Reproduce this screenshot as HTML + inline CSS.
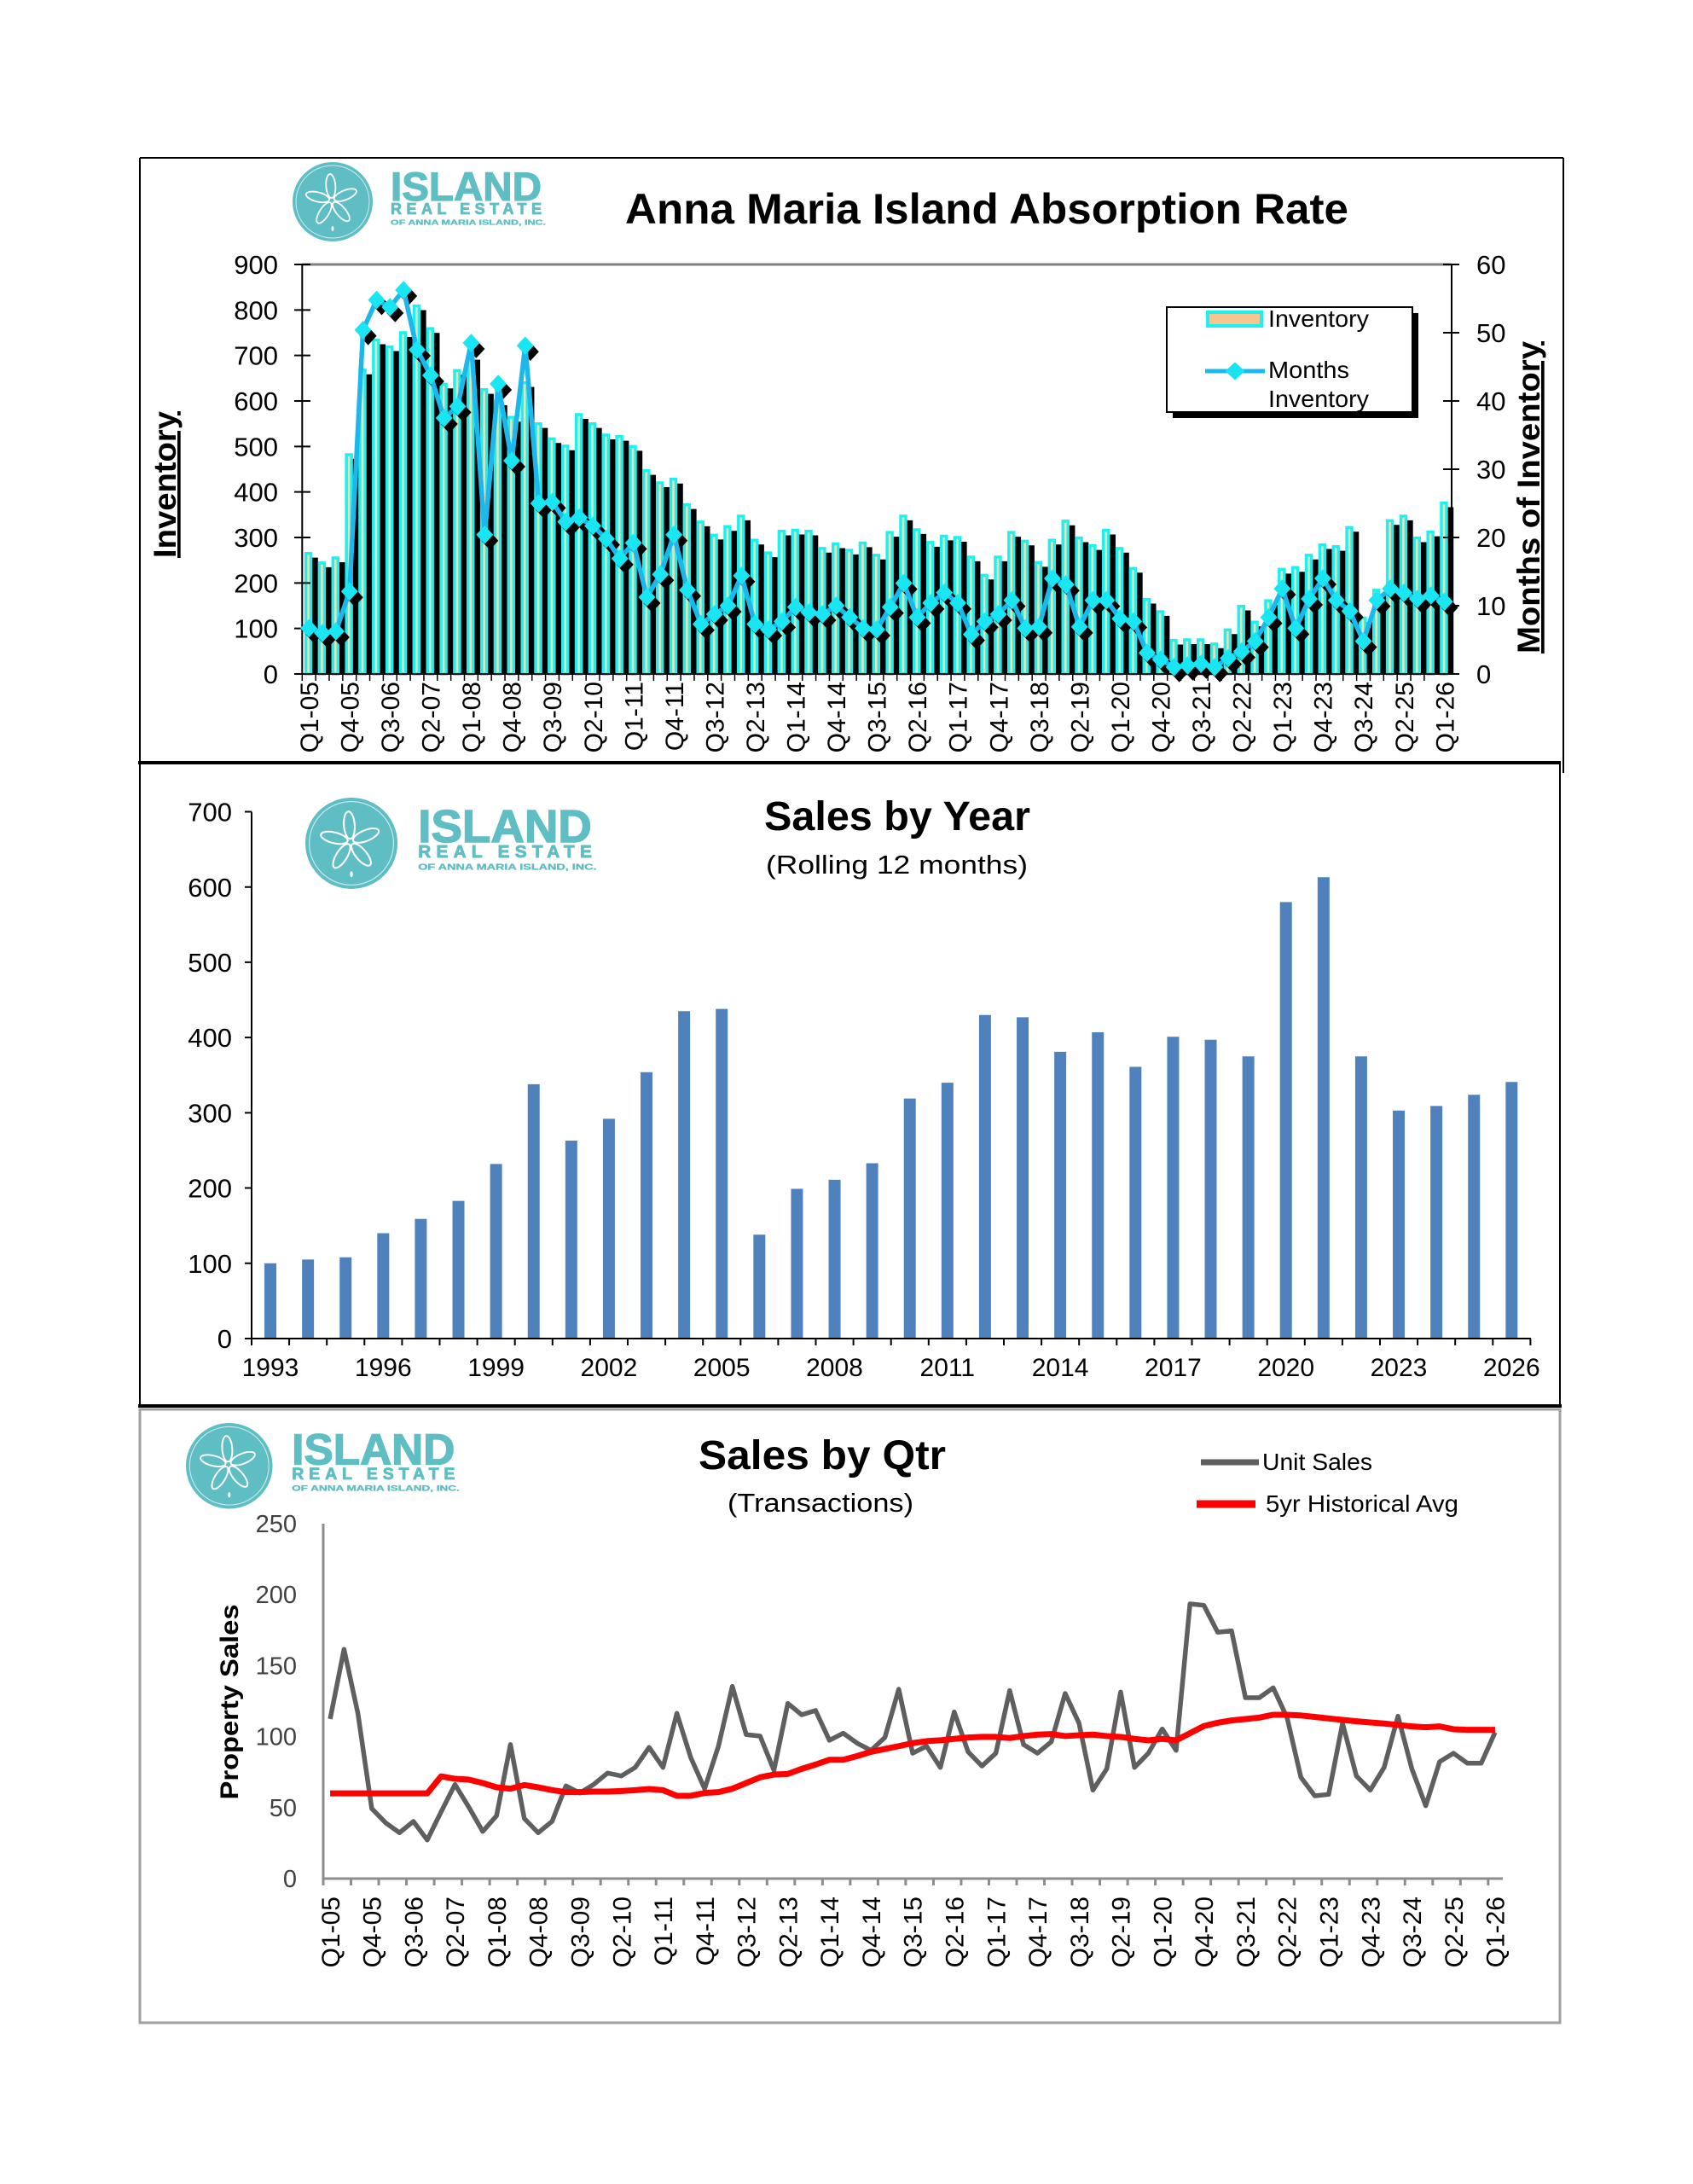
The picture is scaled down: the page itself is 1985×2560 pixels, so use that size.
<!DOCTYPE html>
<html><head><meta charset="utf-8"><style>
html,body{margin:0;padding:0;background:#fff}
svg{display:block}
.ns{vector-effect:non-scaling-stroke}
text{font-family:"Liberation Sans",Arial,sans-serif}
</style></head><body>
<svg width="1985" height="2560" viewBox="0 0 1985 2560" xmlns="http://www.w3.org/2000/svg">
<defs>
<marker id="dC" markerUnits="userSpaceOnUse" markerWidth="1" markerHeight="1" refX="0" refY="0" overflow="visible"><path d="M-0.63 0L0 1.35L0.63 0L0 -1.35Z" fill="#19e6f2"/></marker>
<marker id="dK" markerUnits="userSpaceOnUse" markerWidth="1" markerHeight="1" refX="0" refY="0" overflow="visible"><path d="M-0.63 0L0 1.35L0.63 0L0 -1.35Z" fill="#000"/></marker>
<clipPath id="c1"><rect x="340" y="300" width="1370" height="490"/></clipPath>
</defs>
<rect width="1985" height="2560" fill="#fff"/>

<!-- ================= CHART 1 ================= -->
<path d="M164 185H1833M164 185V894M1833 185V906" stroke="#000" stroke-width="2" fill="none"/>
<!-- logo 1 -->
<g transform="translate(343,190)">
<ellipse cx="47" cy="46.5" rx="47" ry="46.5" fill="#5fbec3"/>
<ellipse cx="47" cy="46.5" rx="43" ry="42.5" fill="none" stroke="#c9ecee" stroke-width="1"/>
<g transform="translate(46,45) rotate(-4)" fill="none" stroke="#fff" stroke-width="1.8">
<ellipse cx="0" cy="-17" rx="5.5" ry="14"/><ellipse cx="0" cy="-17" rx="5.5" ry="14" transform="rotate(72)"/><ellipse cx="0" cy="-17" rx="5.5" ry="14" transform="rotate(144)"/><ellipse cx="0" cy="-17" rx="5.5" ry="14" transform="rotate(216)"/><ellipse cx="0" cy="-17" rx="5.5" ry="14" transform="rotate(288)"/>
</g>
<ellipse cx="47" cy="78" rx="1.5" ry="3" fill="#fff"/>
<text x="115" y="45" font-size="47" font-weight="bold" fill="#5fbec3" stroke="#5fbec3" stroke-width="1.2" textLength="177" lengthAdjust="spacingAndGlyphs">ISLAND</text>
<text x="115" y="61" font-size="18" font-weight="bold" fill="#5fbec3" stroke="#5fbec3" stroke-width="0.8" textLength="177" lengthAdjust="spacing">REAL ESTATE</text>
<text x="115" y="73.5" font-size="8.5" font-weight="bold" fill="#5fbec3" stroke="#5fbec3" stroke-width="0.3" textLength="182" lengthAdjust="spacingAndGlyphs">OF ANNA MARIA ISLAND, INC.</text>
</g>
<text x="733" y="262" font-size="50" font-weight="bold" fill="#000" textLength="848" lengthAdjust="spacingAndGlyphs">Anna Maria Island Absorption Rate</text>

<!-- bar shadows -->
<g clip-path="url(#c1)"><g transform="translate(6.8,5)"><g transform="translate(354.3,790) scale(15.85,-0.53333)">
<path fill="#000" d="M0.21 0v265h.53v-265zM1.21 0v244h.53v-244zM2.21 0v255h.53v-255zM3.21 0v482h.53v-482zM4.21 0v668h.53v-668zM5.21 0v734h.53v-734zM6.21 0v719h.53v-719zM7.21 0v750h.53v-750zM8.21 0v809h.53v-809zM9.21 0v759h.53v-759zM10.21 0v637h.53v-637zM11.21 0v667h.53v-667zM12.21 0v700h.53v-700zM13.21 0v625h.53v-625zM14.21 0v600h.53v-600zM15.21 0v564h.53v-564zM16.21 0v640h.53v-640zM17.21 0v550h.53v-550zM18.21 0v517h.53v-517zM19.21 0v501h.53v-501zM20.21 0v570h.53v-570zM21.21 0v550h.53v-550zM22.21 0v525h.53v-525zM23.21 0v522h.53v-522zM24.21 0v500h.53v-500zM25.21 0v447h.53v-447zM26.21 0v420h.53v-420zM27.21 0v428h.53v-428zM28.21 0v372h.53v-372zM29.21 0v334h.53v-334zM30.21 0v305h.53v-305zM31.21 0v324h.53v-324zM32.21 0v347h.53v-347zM33.21 0v294h.53v-294zM34.21 0v266h.53v-266zM35.21 0v314h.53v-314zM36.21 0v316h.53v-316zM37.21 0v314h.53v-314zM38.21 0v276h.53v-276zM39.21 0v286h.53v-286zM40.21 0v272h.53v-272zM41.21 0v288h.53v-288zM42.21 0v261h.53v-261zM43.21 0v311h.53v-311zM44.21 0v347h.53v-347zM45.21 0v317h.53v-317zM46.21 0v289h.53v-289zM47.21 0v303h.53v-303zM48.21 0v300h.53v-300zM49.21 0v257h.53v-257zM50.21 0v217h.53v-217zM51.21 0v257h.53v-257zM52.21 0v311h.53v-311zM53.21 0v292h.53v-292zM54.21 0v245h.53v-245zM55.21 0v294h.53v-294zM56.21 0v336h.53v-336zM57.21 0v299h.53v-299zM58.21 0v282h.53v-282zM59.21 0v316h.53v-316zM60.21 0v276h.53v-276zM61.21 0v232h.53v-232zM62.21 0v164h.53v-164zM63.21 0v137h.53v-137zM64.21 0v74h.53v-74zM65.21 0v75h.53v-75zM66.21 0v75h.53v-75zM67.21 0v66h.53v-66zM68.21 0v97h.53v-97zM69.21 0v149h.53v-149zM70.21 0v114h.53v-114zM71.21 0v161h.53v-161zM72.21 0v230h.53v-230zM73.21 0v234h.53v-234zM74.21 0v261h.53v-261zM75.21 0v284h.53v-284zM76.21 0v280h.53v-280zM77.21 0v322h.53v-322zM78.21 0v123h.53v-123zM79.21 0v184h.53v-184zM80.21 0v337h.53v-337zM81.21 0v347h.53v-347zM82.21 0v299h.53v-299zM83.21 0v312h.53v-312zM84.21 0v376h.53v-376z"/>
</g></g></g>
<!-- cyan bars -->
<g transform="translate(354.3,790) scale(15.85,-0.53333)">
<path class="ns" fill="#e4e2b8" stroke="#1ef0f0" stroke-width="3.4" d="M0.27 0v265h.38v-265zM1.27 0v244h.38v-244zM2.27 0v255h.38v-255zM3.27 0v482h.38v-482zM4.27 0v668h.38v-668zM5.27 0v734h.38v-734zM6.27 0v719h.38v-719zM7.27 0v750h.38v-750zM8.27 0v809h.38v-809zM9.27 0v759h.38v-759zM10.27 0v637h.38v-637zM11.27 0v667h.38v-667zM12.27 0v700h.38v-700zM13.27 0v625h.38v-625zM14.27 0v600h.38v-600zM15.27 0v564h.38v-564zM16.27 0v640h.38v-640zM17.27 0v550h.38v-550zM18.27 0v517h.38v-517zM19.27 0v501h.38v-501zM20.27 0v570h.38v-570zM21.27 0v550h.38v-550zM22.27 0v525h.38v-525zM23.27 0v522h.38v-522zM24.27 0v500h.38v-500zM25.27 0v447h.38v-447zM26.27 0v420h.38v-420zM27.27 0v428h.38v-428zM28.27 0v372h.38v-372zM29.27 0v334h.38v-334zM30.27 0v305h.38v-305zM31.27 0v324h.38v-324zM32.27 0v347h.38v-347zM33.27 0v294h.38v-294zM34.27 0v266h.38v-266zM35.27 0v314h.38v-314zM36.27 0v316h.38v-316zM37.27 0v314h.38v-314zM38.27 0v276h.38v-276zM39.27 0v286h.38v-286zM40.27 0v272h.38v-272zM41.27 0v288h.38v-288zM42.27 0v261h.38v-261zM43.27 0v311h.38v-311zM44.27 0v347h.38v-347zM45.27 0v317h.38v-317zM46.27 0v289h.38v-289zM47.27 0v303h.38v-303zM48.27 0v300h.38v-300zM49.27 0v257h.38v-257zM50.27 0v217h.38v-217zM51.27 0v257h.38v-257zM52.27 0v311h.38v-311zM53.27 0v292h.38v-292zM54.27 0v245h.38v-245zM55.27 0v294h.38v-294zM56.27 0v336h.38v-336zM57.27 0v299h.38v-299zM58.27 0v282h.38v-282zM59.27 0v316h.38v-316zM60.27 0v276h.38v-276zM61.27 0v232h.38v-232zM62.27 0v164h.38v-164zM63.27 0v137h.38v-137zM64.27 0v74h.38v-74zM65.27 0v75h.38v-75zM66.27 0v75h.38v-75zM67.27 0v66h.38v-66zM68.27 0v97h.38v-97zM69.27 0v149h.38v-149zM70.27 0v114h.38v-114zM71.27 0v161h.38v-161zM72.27 0v230h.38v-230zM73.27 0v234h.38v-234zM74.27 0v261h.38v-261zM75.27 0v284h.38v-284zM76.27 0v280h.38v-280zM77.27 0v322h.38v-322zM78.27 0v123h.38v-123zM79.27 0v184h.38v-184zM80.27 0v337h.38v-337zM81.27 0v347h.38v-347zM82.27 0v299h.38v-299zM83.27 0v312h.38v-312zM84.27 0v376h.38v-376z"/>
</g>
<!-- axes chart 1 -->
<path d="M354.3 310H1702" stroke="#808080" stroke-width="3"/>
<path d="M354.3 309V791M1702 309V791M353 790H1703" stroke="#000" stroke-width="2" fill="none"/>
<path d="M345 310h19m-19 53.333h19m-19 53.333h19m-19 53.333h19m-19 53.333h19m-19 53.333h19m-19 53.333h19m-19 53.333h19m-19 53.333h19m-19 53.333h19" stroke="#000" stroke-width="2"/>
<path d="M1692 310h19m-19 80h19m-19 80h19m-19 80h19m-19 80h19m-19 80h19m-19 80h19" stroke="#000" stroke-width="2"/>
<path d="M354.3 790v8m15.85-8v8m15.85-8v8m15.85-8v8m15.85-8v8m15.85-8v8m15.85-8v8m15.85-8v8m15.85-8v8m15.85-8v8m15.85-8v8m15.85-8v8m15.85-8v8m15.85-8v8m15.85-8v8m15.85-8v8m15.85-8v8m15.85-8v8m15.85-8v8m15.85-8v8m15.85-8v8m15.85-8v8m15.85-8v8m15.85-8v8m15.85-8v8m15.85-8v8m15.85-8v8m15.85-8v8m15.85-8v8m15.85-8v8m15.85-8v8m15.85-8v8m15.85-8v8m15.85-8v8m15.85-8v8m15.85-8v8m15.85-8v8m15.85-8v8m15.85-8v8m15.85-8v8m15.85-8v8m15.85-8v8m15.85-8v8m15.85-8v8m15.85-8v8m15.85-8v8m15.85-8v8m15.85-8v8m15.85-8v8m15.85-8v8m15.85-8v8m15.85-8v8m15.85-8v8m15.85-8v8m15.85-8v8m15.85-8v8m15.85-8v8m15.85-8v8m15.85-8v8m15.85-8v8m15.85-8v8m15.85-8v8m15.85-8v8m15.85-8v8m15.85-8v8m15.85-8v8m15.85-8v8m15.85-8v8m15.85-8v8m15.85-8v8m15.85-8v8m15.85-8v8m15.85-8v8m15.85-8v8m15.85-8v8m15.85-8v8m15.85-8v8m15.85-8v8m15.85-8v8m15.85-8v8m15.85-8v8m15.85-8v8m15.85-8v8m15.85-8v8" stroke="#000" stroke-width="1.5"/>
<!-- months line -->
<g transform="translate(6,7)"><g transform="translate(354.3,790) scale(15.85,-8)">
<polyline fill="none" stroke="none" marker-start="url(#dK)" marker-mid="url(#dK)" marker-end="url(#dK)" points="0.5,6.7 1.5,6 2.5,6.25 3.5,12.1 4.5,50.4 5.5,54.8 6.5,53.75 7.5,56.25 8.5,47.5 9.5,43.75 10.5,37.5 11.5,39.2 12.5,48.5 13.5,20.4 14.5,42.5 15.5,31.25 16.5,48.1 17.5,25 18.5,25.2 19.5,22.3 20.5,22.9 21.5,21.7 22.5,19.8 23.5,16.9 24.5,19.2 25.5,11.25 26.5,14.6 27.5,20.4 28.5,12.3 29.5,7.3 30.5,8.75 31.5,10 32.5,14.4 33.5,7.3 34.5,6.5 35.5,7.7 36.5,9.8 37.5,9 38.5,8.75 39.5,10 40.5,8.3 41.5,6.7 42.5,6.5 43.5,9.8 44.5,13.3 45.5,8.3 46.5,10.4 47.5,11.9 48.5,10.4 49.5,5.8 50.5,7.7 51.5,8.75 52.5,10.8 53.5,6.7 54.5,6.9 55.5,14 56.5,13.1 57.5,6.9 58.5,10.8 59.5,10.8 60.5,8.1 61.5,7.7 62.5,3.1 63.5,2.1 64.5,1 65.5,1.25 66.5,1.5 67.5,1 68.5,2.3 69.5,3.3 70.5,4.8 71.5,8.3 72.5,12.5 73.5,6.7 74.5,11 75.5,14 76.5,10.8 77.5,9.2 78.5,4.8 79.5,10.8 80.5,12.5 81.5,11.9 82.5,11 83.5,11.5 84.5,10.6"/>
</g></g>
<g transform="translate(354.3,790) scale(15.85,-8)">
<polyline class="ns" fill="none" stroke="#1cb8ec" stroke-width="5.5" stroke-linejoin="round" points="0.5,6.7 1.5,6 2.5,6.25 3.5,12.1 4.5,50.4 5.5,54.8 6.5,53.75 7.5,56.25 8.5,47.5 9.5,43.75 10.5,37.5 11.5,39.2 12.5,48.5 13.5,20.4 14.5,42.5 15.5,31.25 16.5,48.1 17.5,25 18.5,25.2 19.5,22.3 20.5,22.9 21.5,21.7 22.5,19.8 23.5,16.9 24.5,19.2 25.5,11.25 26.5,14.6 27.5,20.4 28.5,12.3 29.5,7.3 30.5,8.75 31.5,10 32.5,14.4 33.5,7.3 34.5,6.5 35.5,7.7 36.5,9.8 37.5,9 38.5,8.75 39.5,10 40.5,8.3 41.5,6.7 42.5,6.5 43.5,9.8 44.5,13.3 45.5,8.3 46.5,10.4 47.5,11.9 48.5,10.4 49.5,5.8 50.5,7.7 51.5,8.75 52.5,10.8 53.5,6.7 54.5,6.9 55.5,14 56.5,13.1 57.5,6.9 58.5,10.8 59.5,10.8 60.5,8.1 61.5,7.7 62.5,3.1 63.5,2.1 64.5,1 65.5,1.25 66.5,1.5 67.5,1 68.5,2.3 69.5,3.3 70.5,4.8 71.5,8.3 72.5,12.5 73.5,6.7 74.5,11 75.5,14 76.5,10.8 77.5,9.2 78.5,4.8 79.5,10.8 80.5,12.5 81.5,11.9 82.5,11 83.5,11.5 84.5,10.6"/>
<polyline fill="none" stroke="none" marker-start="url(#dC)" marker-mid="url(#dC)" marker-end="url(#dC)" points="0.5,6.7 1.5,6 2.5,6.25 3.5,12.1 4.5,50.4 5.5,54.8 6.5,53.75 7.5,56.25 8.5,47.5 9.5,43.75 10.5,37.5 11.5,39.2 12.5,48.5 13.5,20.4 14.5,42.5 15.5,31.25 16.5,48.1 17.5,25 18.5,25.2 19.5,22.3 20.5,22.9 21.5,21.7 22.5,19.8 23.5,16.9 24.5,19.2 25.5,11.25 26.5,14.6 27.5,20.4 28.5,12.3 29.5,7.3 30.5,8.75 31.5,10 32.5,14.4 33.5,7.3 34.5,6.5 35.5,7.7 36.5,9.8 37.5,9 38.5,8.75 39.5,10 40.5,8.3 41.5,6.7 42.5,6.5 43.5,9.8 44.5,13.3 45.5,8.3 46.5,10.4 47.5,11.9 48.5,10.4 49.5,5.8 50.5,7.7 51.5,8.75 52.5,10.8 53.5,6.7 54.5,6.9 55.5,14 56.5,13.1 57.5,6.9 58.5,10.8 59.5,10.8 60.5,8.1 61.5,7.7 62.5,3.1 63.5,2.1 64.5,1 65.5,1.25 66.5,1.5 67.5,1 68.5,2.3 69.5,3.3 70.5,4.8 71.5,8.3 72.5,12.5 73.5,6.7 74.5,11 75.5,14 76.5,10.8 77.5,9.2 78.5,4.8 79.5,10.8 80.5,12.5 81.5,11.9 82.5,11 83.5,11.5 84.5,10.6"/>
</g>
<!-- y labels chart1 -->
<g font-size="31" fill="#000" text-anchor="end">
<text x="326" y="321">900</text><text x="326" y="374.3">800</text><text x="326" y="427.7">700</text><text x="326" y="481">600</text><text x="326" y="534.3">500</text><text x="326" y="587.7">400</text><text x="326" y="641">300</text><text x="326" y="694.3">200</text><text x="326" y="747.7">100</text><text x="326" y="801">0</text>
</g>
<g font-size="31" fill="#000" text-anchor="start">
<text x="1731" y="321">60</text><text x="1731" y="401">50</text><text x="1731" y="481">40</text><text x="1731" y="561">30</text><text x="1731" y="641">20</text><text x="1731" y="721">10</text><text x="1731" y="801">0</text>
</g>
<text transform="translate(206,568) rotate(-90)" font-size="37" font-weight="bold" text-anchor="middle" text-decoration="underline" textLength="172" lengthAdjust="spacingAndGlyphs">Inventory</text>
<text transform="translate(1805,583) rotate(-90)" font-size="37" font-weight="bold" text-anchor="middle" text-decoration="underline" textLength="366" lengthAdjust="spacingAndGlyphs">Months of Inventory</text>
<!-- x labels chart1 -->
<g font-size="30" fill="#000" text-anchor="end">
<text transform="translate(372.9,799) rotate(-90)">Q1-05</text><text transform="translate(420.5,799) rotate(-90)">Q4-05</text><text transform="translate(468,799) rotate(-90)">Q3-06</text><text transform="translate(515.6,799) rotate(-90)">Q2-07</text><text transform="translate(563.1,799) rotate(-90)">Q1-08</text><text transform="translate(610.7,799) rotate(-90)">Q4-08</text><text transform="translate(658.2,799) rotate(-90)">Q3-09</text><text transform="translate(705.8,799) rotate(-90)">Q2-10</text><text transform="translate(753.3,799) rotate(-90)">Q1-11</text><text transform="translate(800.9,799) rotate(-90)">Q4-11</text><text transform="translate(848.4,799) rotate(-90)">Q3-12</text><text transform="translate(896,799) rotate(-90)">Q2-13</text><text transform="translate(943.5,799) rotate(-90)">Q1-14</text><text transform="translate(991.1,799) rotate(-90)">Q4-14</text><text transform="translate(1038.6,799) rotate(-90)">Q3-15</text><text transform="translate(1086.2,799) rotate(-90)">Q2-16</text><text transform="translate(1133.7,799) rotate(-90)">Q1-17</text><text transform="translate(1181.3,799) rotate(-90)">Q4-17</text><text transform="translate(1228.8,799) rotate(-90)">Q3-18</text><text transform="translate(1276.4,799) rotate(-90)">Q2-19</text><text transform="translate(1323.9,799) rotate(-90)">Q1-20</text><text transform="translate(1371.5,799) rotate(-90)">Q4-20</text><text transform="translate(1419,799) rotate(-90)">Q3-21</text><text transform="translate(1466.6,799) rotate(-90)">Q2-22</text><text transform="translate(1514.1,799) rotate(-90)">Q1-23</text><text transform="translate(1561.7,799) rotate(-90)">Q4-23</text><text transform="translate(1609.2,799) rotate(-90)">Q3-24</text><text transform="translate(1656.8,799) rotate(-90)">Q2-25</text><text transform="translate(1704.3,799) rotate(-90)">Q1-26</text>
</g>
<!-- legend chart1 -->
<rect x="1375" y="367" width="288" height="123" fill="#000"/>
<rect x="1368" y="360" width="288" height="123" fill="#fff" stroke="#000" stroke-width="2"/>
<rect x="1416" y="366" width="63" height="16" fill="#f9c58f" stroke="#1ef0f0" stroke-width="4"/>
<text x="1487" y="383" font-size="28" textLength="118" lengthAdjust="spacingAndGlyphs">Inventory</text>
<path d="M1413 435H1483" stroke="#1cb8ec" stroke-width="5"/>
<path d="M1436.5 435L1448 424.5L1459.5 435L1448 445.5Z" fill="#19e3f0"/>
<text x="1487" y="443" font-size="28" textLength="95" lengthAdjust="spacingAndGlyphs">Months</text>
<text x="1487" y="477" font-size="28" textLength="118" lengthAdjust="spacingAndGlyphs">Inventory</text>

<!-- ================= CHART 2 ================= -->
<path d="M162 894H1830" stroke="#000" stroke-width="4"/>
<path d="M164 894V1648M1829 894V1648" stroke="#000" stroke-width="2"/>
<path d="M162 1648H1831" stroke="#000" stroke-width="4"/>
<g transform="translate(358,935) scale(1.15)">
<ellipse cx="47" cy="46.5" rx="47" ry="46.5" fill="#5fbec3"/>
<ellipse cx="47" cy="46.5" rx="43" ry="42.5" fill="none" stroke="#c9ecee" stroke-width="1"/>
<g transform="translate(46,45) rotate(-4)" fill="none" stroke="#fff" stroke-width="1.8">
<ellipse cx="0" cy="-17" rx="5.5" ry="14"/><ellipse cx="0" cy="-17" rx="5.5" ry="14" transform="rotate(72)"/><ellipse cx="0" cy="-17" rx="5.5" ry="14" transform="rotate(144)"/><ellipse cx="0" cy="-17" rx="5.5" ry="14" transform="rotate(216)"/><ellipse cx="0" cy="-17" rx="5.5" ry="14" transform="rotate(288)"/>
</g>
<ellipse cx="47" cy="78" rx="1.5" ry="3" fill="#fff"/>
<text x="115" y="45" font-size="47" font-weight="bold" fill="#5fbec3" stroke="#5fbec3" stroke-width="1.2" textLength="177" lengthAdjust="spacingAndGlyphs">ISLAND</text>
<text x="115" y="61" font-size="18" font-weight="bold" fill="#5fbec3" stroke="#5fbec3" stroke-width="0.8" textLength="177" lengthAdjust="spacing">REAL ESTATE</text>
<text x="115" y="73.5" font-size="8.5" font-weight="bold" fill="#5fbec3" stroke="#5fbec3" stroke-width="0.3" textLength="182" lengthAdjust="spacingAndGlyphs">OF ANNA MARIA ISLAND, INC.</text>
</g>
<text x="896" y="973" font-size="48" font-weight="bold" textLength="312" lengthAdjust="spacingAndGlyphs">Sales by Year</text>
<text x="898" y="1024" font-size="31" textLength="307" lengthAdjust="spacingAndGlyphs">(Rolling 12 months)</text>
<g transform="translate(295,1569) scale(44.1,-0.8821)">
<path fill="#4f81bd" d="M0.341 0v100h.317v-100zM1.341 0v105h.317v-105zM2.341 0v108h.317v-108zM3.341 0v140h.317v-140zM4.341 0v159h.317v-159zM5.341 0v183h.317v-183zM6.341 0v232h.317v-232zM7.341 0v338h.317v-338zM8.341 0v263h.317v-263zM9.341 0v292h.317v-292zM10.341 0v354h.317v-354zM11.341 0v435h.317v-435zM12.341 0v438h.317v-438zM13.341 0v138h.317v-138zM14.341 0v199h.317v-199zM15.341 0v211h.317v-211zM16.341 0v233h.317v-233zM17.341 0v319h.317v-319zM18.341 0v340h.317v-340zM19.341 0v430h.317v-430zM20.341 0v427h.317v-427zM21.341 0v381h.317v-381zM22.341 0v407h.317v-407zM23.341 0v361h.317v-361zM24.341 0v401h.317v-401zM25.341 0v397h.317v-397zM26.341 0v375h.317v-375zM27.341 0v580h.317v-580zM28.341 0v613h.317v-613zM29.341 0v375h.317v-375zM30.341 0v303h.317v-303zM31.341 0v309h.317v-309zM32.341 0v324h.317v-324zM33.341 0v341h.317v-341z"/>
</g>
<path d="M295 951.5V1570M294 1569H1795" stroke="#000" stroke-width="2" fill="none"/>
<path d="M287 951.5h8m-8 88.21h8m-8 88.21h8m-8 88.21h8m-8 88.21h8m-8 88.21h8m-8 88.21h8m-8 88.21h8" stroke="#000" stroke-width="2"/>
<path d="M295 1569v8m44.1-8v8m44.1-8v8m44.1-8v8m44.1-8v8m44.1-8v8m44.1-8v8m44.1-8v8m44.1-8v8m44.1-8v8m44.1-8v8m44.1-8v8m44.1-8v8m44.1-8v8m44.1-8v8m44.1-8v8m44.1-8v8m44.1-8v8m44.1-8v8m44.1-8v8m44.1-8v8m44.1-8v8m44.1-8v8m44.1-8v8m44.1-8v8m44.1-8v8m44.1-8v8m44.1-8v8m44.1-8v8m44.1-8v8m44.1-8v8m44.1-8v8m44.1-8v8m44.1-8v8m44.1-8v8" stroke="#000" stroke-width="2"/>
<g font-size="31" fill="#000" text-anchor="end">
<text x="272" y="962.5">700</text><text x="272" y="1050.8">600</text><text x="272" y="1139">500</text><text x="272" y="1227.2">400</text><text x="272" y="1315.4">300</text><text x="272" y="1403.6">200</text><text x="272" y="1491.8">100</text><text x="272" y="1580">0</text>
</g>
<g font-size="30" fill="#000" text-anchor="middle">
<text x="317" y="1613">1993</text><text x="449.3" y="1613">1996</text><text x="581.6" y="1613">1999</text><text x="713.9" y="1613">2002</text><text x="846.2" y="1613">2005</text><text x="978.5" y="1613">2008</text><text x="1110.8" y="1613">2011</text><text x="1243.1" y="1613">2014</text><text x="1375.4" y="1613">2017</text><text x="1507.7" y="1613">2020</text><text x="1640" y="1613">2023</text><text x="1772.3" y="1613">2026</text>
</g>

<!-- ================= CHART 3 ================= -->
<rect x="164" y="1652" width="1665" height="719" fill="none" stroke="#a0a0a0" stroke-width="3"/>
<g transform="translate(218,1668) scale(1.08)">
<ellipse cx="47" cy="46.5" rx="47" ry="46.5" fill="#5fbec3"/>
<ellipse cx="47" cy="46.5" rx="43" ry="42.5" fill="none" stroke="#c9ecee" stroke-width="1"/>
<g transform="translate(46,45) rotate(-4)" fill="none" stroke="#fff" stroke-width="1.8">
<ellipse cx="0" cy="-17" rx="5.5" ry="14"/><ellipse cx="0" cy="-17" rx="5.5" ry="14" transform="rotate(72)"/><ellipse cx="0" cy="-17" rx="5.5" ry="14" transform="rotate(144)"/><ellipse cx="0" cy="-17" rx="5.5" ry="14" transform="rotate(216)"/><ellipse cx="0" cy="-17" rx="5.5" ry="14" transform="rotate(288)"/>
</g>
<ellipse cx="47" cy="78" rx="1.5" ry="3" fill="#fff"/>
<text x="115" y="45" font-size="47" font-weight="bold" fill="#5fbec3" stroke="#5fbec3" stroke-width="1.2" textLength="177" lengthAdjust="spacingAndGlyphs">ISLAND</text>
<text x="115" y="61" font-size="18" font-weight="bold" fill="#5fbec3" stroke="#5fbec3" stroke-width="0.8" textLength="177" lengthAdjust="spacing">REAL ESTATE</text>
<text x="115" y="73.5" font-size="8.5" font-weight="bold" fill="#5fbec3" stroke="#5fbec3" stroke-width="0.3" textLength="182" lengthAdjust="spacingAndGlyphs">OF ANNA MARIA ISLAND, INC.</text>
</g>
<text x="819" y="1722" font-size="48" font-weight="bold" textLength="290" lengthAdjust="spacingAndGlyphs">Sales by Qtr</text>
<text x="853" y="1772" font-size="31" textLength="218" lengthAdjust="spacingAndGlyphs">(Transactions)</text>
<path d="M1408 1714H1476" stroke="#5f5f5f" stroke-width="7"/>
<text x="1480" y="1723" font-size="28" textLength="129" lengthAdjust="spacingAndGlyphs">Unit Sales</text>
<path d="M1403 1763H1472" stroke="#ff0000" stroke-width="9"/>
<text x="1484" y="1772" font-size="28" textLength="226" lengthAdjust="spacingAndGlyphs">5yr Historical Avg</text>
<path d="M379 1786V2202M379 2202H1762" stroke="#8c8c8c" stroke-width="3" fill="none"/>
<path d="M379 2202v8m32.52-8v8m32.52-8v8m32.52-8v8m32.52-8v8m32.52-8v8m32.52-8v8m32.52-8v8m32.52-8v8m32.52-8v8m32.52-8v8m32.52-8v8m32.52-8v8m32.52-8v8m32.52-8v8m32.52-8v8m32.52-8v8m32.52-8v8m32.52-8v8m32.52-8v8m32.52-8v8m32.52-8v8m32.52-8v8m32.52-8v8m32.52-8v8m32.52-8v8m32.52-8v8m32.52-8v8m32.52-8v8m32.52-8v8m32.52-8v8m32.52-8v8m32.52-8v8m32.52-8v8m32.52-8v8m32.52-8v8m32.52-8v8m32.52-8v8m32.52-8v8m32.52-8v8m32.52-8v8m32.52-8v8m32.52-8v8" stroke="#8c8c8c" stroke-width="3"/>
<g font-size="29" fill="#404040" text-anchor="end">
<text x="348" y="1796">250</text><text x="348" y="1879.2">200</text><text x="348" y="1962.4">150</text><text x="348" y="2045.6">100</text><text x="348" y="2128.8">50</text><text x="348" y="2212">0</text>
</g>
<text transform="translate(279,1995) rotate(-90)" font-size="30" font-weight="bold" text-anchor="middle" textLength="229" lengthAdjust="spacingAndGlyphs">Property Sales</text>
<g transform="translate(387.1,2202) scale(16.26,-1.664)">
<polyline class="ns" fill="none" stroke="#5f5f5f" stroke-width="5.5" stroke-linejoin="round" points="0,112.4 1,161.5 2,116.4 3,49.3 4,39.3 5,32.3 6,40.3 7,27.2 8,47 9,66.3 10,50.3 11,33.2 12,44.3 13,94.4 14,42.3 15,32.3 16,40.3 17,65.3 18,60.3 19,66.3 20,74.3 21,72.3 22,78.3 23,92.4 24,78.3 25,116.4 26,85.3 27,63.3 28,93.3 29,135.4 30,101.4 31,100.4 32,76.3 33,123.4 34,115.4 35,118.4 36,97.4 37,102.4 38,95.4 39,90.3 40,99.4 41,133.4 42,88.3 43,93.3 44,78.3 45,117.4 46,89.3 47,79.3 48,88.3 49,132.4 50,94.4 51,88.3 52,96.4 53,130.4 54,109.4 55,62.3 56,77.3 57,131.4 58,78.3 59,88.3 60,105.4 61,90.3 62,193.5 63,192.5 64,173.5 65,174.5 66,127.4 67,127.4 68,134.4 69,113.4 70,71.3 71,58.3 72,59.3 73,109.4 74,72.3 75,62.3 76,78.3 77,114.4 78,77.3 79,51.3 80,82.3 81,88.3 82,81.3 83,81.3 84,103"/>
<polyline class="ns" fill="none" stroke="#ff0000" stroke-width="7" stroke-linejoin="round" points="0,60 1,60 2,60 3,60 4,60 5,60 6,60 7,60 8,72 9,70.3 10,69.7 11,67.3 12,64.3 13,63.3 14,65.9 15,64.3 16,62.3 17,60.9 18,60.9 19,61.3 20,61.3 21,61.7 22,62.3 23,63.1 24,62.3 25,58.3 26,58.3 27,60.3 28,60.9 29,63.3 30,67.3 31,71.3 32,73.3 33,73.7 34,77.3 35,80.3 36,83.7 37,83.7 38,86.3 39,89.3 40,91.3 41,93.3 42,95.4 43,96.8 44,97.4 45,98.4 46,99.4 47,99.8 48,99.8 49,99 50,100.4 51,101.4 52,101.8 53,100.4 54,101 55,101.4 56,100.4 57,99.8 58,98.4 59,97.4 60,98.4 61,97.4 62,102.4 63,107.4 64,109.8 65,111.4 66,112.4 67,113.4 68,115.4 69,115.4 70,114.9 71,113.9 72,112.8 73,111.8 74,110.8 75,110 76,109.2 77,108.2 78,107.2 79,106.6 80,107.2 81,105.2 82,104.8 83,104.8 84,104.8"/>
</g>
<g font-size="30" fill="#000" text-anchor="end">
<text transform="translate(397.8,2223) rotate(-90)">Q1-05</text><text transform="translate(446.6,2223) rotate(-90)">Q4-05</text><text transform="translate(495.4,2223) rotate(-90)">Q3-06</text><text transform="translate(544.1,2223) rotate(-90)">Q2-07</text><text transform="translate(592.9,2223) rotate(-90)">Q1-08</text><text transform="translate(641.7,2223) rotate(-90)">Q4-08</text><text transform="translate(690.5,2223) rotate(-90)">Q3-09</text><text transform="translate(739.3,2223) rotate(-90)">Q2-10</text><text transform="translate(788,2223) rotate(-90)">Q1-11</text><text transform="translate(836.8,2223) rotate(-90)">Q4-11</text><text transform="translate(885.6,2223) rotate(-90)">Q3-12</text><text transform="translate(934.4,2223) rotate(-90)">Q2-13</text><text transform="translate(983.2,2223) rotate(-90)">Q1-14</text><text transform="translate(1031.9,2223) rotate(-90)">Q4-14</text><text transform="translate(1080.7,2223) rotate(-90)">Q3-15</text><text transform="translate(1129.5,2223) rotate(-90)">Q2-16</text><text transform="translate(1178.3,2223) rotate(-90)">Q1-17</text><text transform="translate(1227.1,2223) rotate(-90)">Q4-17</text><text transform="translate(1275.8,2223) rotate(-90)">Q3-18</text><text transform="translate(1324.6,2223) rotate(-90)">Q2-19</text><text transform="translate(1373.4,2223) rotate(-90)">Q1-20</text><text transform="translate(1422.2,2223) rotate(-90)">Q4-20</text><text transform="translate(1471,2223) rotate(-90)">Q3-21</text><text transform="translate(1519.7,2223) rotate(-90)">Q2-22</text><text transform="translate(1568.5,2223) rotate(-90)">Q1-23</text><text transform="translate(1617.3,2223) rotate(-90)">Q4-23</text><text transform="translate(1666.1,2223) rotate(-90)">Q3-24</text><text transform="translate(1714.9,2223) rotate(-90)">Q2-25</text><text transform="translate(1763.6,2223) rotate(-90)">Q1-26</text>
</g>
</svg>
</body></html>
